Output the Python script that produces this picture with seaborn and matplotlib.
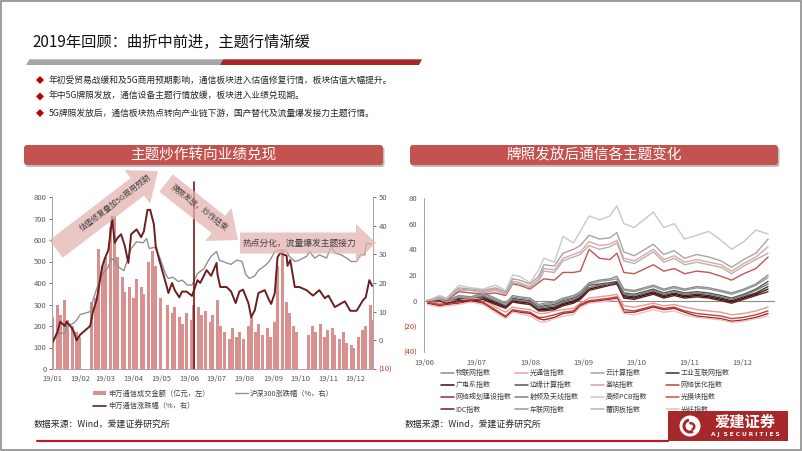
import matplotlib
matplotlib.use('Agg')
import numpy as np
import pandas as pd
import matplotlib.pyplot as plt
import matplotlib.dates as mdates
from matplotlib.patches import Polygon, FancyBboxPatch, Rectangle, Circle, Wedge
from matplotlib.lines import Line2D
import seaborn as sns

sns.set_theme(style='white')
plt.rcParams['font.family'] = ['Noto Sans CJK SC', 'DejaVu Sans']
plt.rcParams['axes.unicode_minus'] = False

# ---------------- left chart data ----------------
# 申万通信成交金额 (亿元), one value every 3 trading days from 2019-01-02
turnover = [240, 300, 250, 320, 230, 200, 170, 150, 0, 0,
            310, 330, 560, 480, 520, 660, 710, 520, 430, 360,
            380, 330, 420, 380, 350, 500, 550, 480, 330, 0,
            300, 260, 290, 240, 210, 260, 230, 300, 290, 250,
            270, 220, 250, 320, 200, 170, 140, 190, 150, 170,
            140, 200, 240, 170, 210, 160, 190, 150, 220, 480,
            560, 310, 260, 200, 170, 0, 0, 160, 200, 170,
            210, 150, 180, 190, 160, 140, 170, 120, 110, 100,
            150, 180, 200, 300, 230]

sw_dates = ['2019-01-02', '2019-01-07', '2019-01-10', '2019-01-15', '2019-01-17', '2019-01-22',
            '2019-01-25', '2019-01-28', '2019-02-01', '2019-02-12', '2019-02-15', '2019-02-19',
            '2019-02-21', '2019-02-25', '2019-02-28', '2019-03-04', '2019-03-07', '2019-03-08',
            '2019-03-11', '2019-03-14', '2019-03-18', '2019-03-22', '2019-03-26', '2019-03-29',
            '2019-04-04', '2019-04-09', '2019-04-12', '2019-04-16', '2019-04-19', '2019-04-23',
            '2019-04-25', '2019-04-29', '2019-05-07', '2019-05-09', '2019-05-13', '2019-05-16',
            '2019-05-21', '2019-05-24', '2019-05-29', '2019-06-04', '2019-06-10', '2019-06-13',
            '2019-06-20', '2019-06-25', '2019-07-01', '2019-07-02', '2019-07-05', '2019-07-12',
            '2019-07-17', '2019-07-22', '2019-07-26', '2019-07-30', '2019-08-05', '2019-08-08',
            '2019-08-12', '2019-08-16', '2019-08-23', '2019-08-27', '2019-08-30', '2019-09-03',
            '2019-09-06', '2019-09-09', '2019-09-16', '2019-09-17', '2019-09-20', '2019-09-25',
            '2019-09-30', '2019-10-08', '2019-10-15', '2019-10-22', '2019-10-28', '2019-11-01',
            '2019-11-08', '2019-11-13', '2019-11-19', '2019-11-25', '2019-12-02', '2019-12-09',
            '2019-12-12', '2019-12-16', '2019-12-19']
sw_change = [-0.5, 3, 6.5, 5, 6.5, 4.7, 3, 0, 2, 5, 10, 14, 17.5, 25.5, 28.5, 31.5, 39.5, 43,
             34, 35.7, 37, 33, 27, 37, 38.7, 36, 38, 45.5, 45.5, 40.5, 33, 28, 19, 16.5, 20,
             17.5, 15, 17, 17, 15.5, 21, 20, 24.5, 22.5, 27, 23, 18.6, 18.6, 17, 13, 17, 17.7,
             13, 8.1, 10.5, 16.5, 17.5, 14.5, 12.7, 16.5, 29, 30.5, 29.5, 26, 28, 18.6, 18.6,
             17.5, 15.6, 17.5, 14.7, 15.6, 11.6, 12.5, 13.6, 10.3, 10.3, 14, 15, 21, 19]

hs_dates = ['2019-01-02', '2019-01-08', '2019-01-15', '2019-01-18', '2019-01-24', '2019-01-28',
            '2019-02-01', '2019-02-12', '2019-02-15', '2019-02-21', '2019-02-26', '2019-03-04',
            '2019-03-07', '2019-03-11', '2019-03-15', '2019-03-21', '2019-03-25', '2019-03-29',
            '2019-04-04', '2019-04-11', '2019-04-15', '2019-04-18', '2019-04-24', '2019-04-29',
            '2019-05-06', '2019-05-09', '2019-05-14', '2019-05-20', '2019-05-24', '2019-05-30',
            '2019-06-04', '2019-06-10', '2019-06-17', '2019-06-21', '2019-06-25', '2019-07-01',
            '2019-07-04', '2019-07-12', '2019-07-17', '2019-07-23', '2019-07-29', '2019-08-02',
            '2019-08-06', '2019-08-12', '2019-08-16', '2019-08-23', '2019-08-28', '2019-09-03',
            '2019-09-09', '2019-09-16', '2019-09-19', '2019-09-25', '2019-09-30', '2019-10-08',
            '2019-10-11', '2019-10-17', '2019-10-22', '2019-10-30', '2019-11-04', '2019-11-08',
            '2019-11-15', '2019-11-21', '2019-11-26', '2019-12-02', '2019-12-06', '2019-12-11',
            '2019-12-13', '2019-12-18']
hs_change = [-0.5, 2.5, 2.5, 5.4, 5.8, 7, 9, 10, 14, 19.8, 23.3, 25.6, 28.5, 28, 25.6, 24.3,
             28, 32, 34.4, 34, 35.5, 32, 32.5, 29.3, 23, 21.6, 22, 20.5, 21, 19.3, 19.3, 23.3,
             25, 27.3, 29.3, 31, 28, 27, 26.5, 28, 27.5, 23, 21.6, 22.5, 24.4, 26, 27.5, 31,
             31.6, 31, 29.3, 27.5, 28, 29.3, 31, 28.7, 29.8, 28.7, 32.7, 30.5, 29.8, 28.7,
             27.5, 27.5, 29.8, 29.8, 34, 33.5]

# ---------------- right chart data (涨跌幅 %, since June) ----------------
theme_dates = ['2019-06-03', '2019-06-10', '2019-06-14', '2019-06-21', '2019-06-28',
               '2019-07-05', '2019-07-12', '2019-07-18', '2019-07-22', '2019-07-26',
               '2019-08-01', '2019-08-06', '2019-08-09', '2019-08-15', '2019-08-20',
               '2019-08-26', '2019-08-30', '2019-09-04', '2019-09-10', '2019-09-16',
               '2019-09-20', '2019-09-24', '2019-09-30', '2019-10-11', '2019-10-17',
               '2019-10-23', '2019-10-29', '2019-11-05', '2019-11-12', '2019-11-19',
               '2019-11-25', '2019-12-02', '2019-12-09', '2019-12-16']
iot = [0, 2, 0, 4, 3, 6, 2, -2, 4, 3, 2, -3, -2, -1, 2, 4, 7, 14, 16, 17, 19, 9, 8, 12, 9, 11, 9, 11, 10, 8, 6, 9, 13, 20]
optical = [0, 2, 1, 8, 8, 7, 9, 6, 15, 14, 11, 17, 25, 24, 33, 36, 38, 46, 43, 44, 47, 33, 31, 40, 32, 35, 30, 32, 30, 28, 23, 29, 34, 42]
cloud = [0, 3, 2, 10, 9, 8, 10, 7, 17, 16, 13, 19, 28, 27, 37, 40, 43, 51, 48, 49, 53, 38, 35, 44, 36, 39, 33, 36, 34, 31, 26, 32, 37, 48]
industrial = [0, 1, -1, 2, 1, 3, -1, -4, 1, 0, -1, -6, -6, -5, -2, 0, 3, 10, 12, 13, 14, 4, 3, 7, 4, 6, 4, 5, 4, 2, 0, 3, 6, 11]
broadcast = [0, 0, -2, 1, 0, 2, -2, -5, 0, -1, -2, -7, -7, -6, -3, -1, 2, 9, 11, 13, 14, 3, 2, 6, 3, 5, 3, 4, 3, 1, -1, 2, 5, 9]
edge = [0, 1, -1, 2, 1, 3, 0, -4, 2, 1, 0, -5, -4, -3, 0, 2, 5, 12, 13, 14, 15, 6, 5, 9, 6, 8, 6, 7, 6, 4, 2, 5, 9, 15]
base_station = [0, -2, -1, 0, 2, 1, -5, -9, -5, -6, -7, -10, -10, -8, -7, -6, -2, 2, 3, 4, 5, -4, -5, -2, -4, -3, -5, -7, -8, -9, -11, -10, -8, -5]
net_optimize = [-1, -3, -2, -1, 1, -1, -7, -12, -7, -8, -9, -13, -13, -11, -9, -8, -3, 0, 1, 2, 3, -7, -8, -4, -6, -5, -8, -10, -11, -12, -14, -13, -11, -8]
net_planning = [-2, -4, -3, -2, 0, -2, -8, -13, -8, -9, -10, -14, -15, -13, -10, -9, -4, -1, 0, 1, 2, -9, -9, -5, -7, -6, -9, -12, -13, -14, -16, -15, -13, -10]
rf_antenna = [0, 2, 0, 3, 2, 4, 0, -3, 1, 0, -1, -6, -5, -4, -1, 1, 4, 10, 12, 13, 13, 5, 4, 8, 5, 7, 5, 6, 5, 3, 1, 4, 8, 13]
hf_pcb = [0, 4, 2, 12, 10, 9, 12, 8, 20, 19, 14, 24, 33, 30, 50, 45, 54, 66, 63, 66, 74, 60, 57, 69, 57, 60, 48, 51, 54, 47, 40, 46, 55, 52]
opt_module = [0, 1, 0, 7, 6, 5, 6, 4, 13, 12, 9, 14, 17, 16, 22, 22, 23, 40, 33, 32, 37, 22, 21, 28, 23, 25, 21, 23, 22, 19, 16, 21, 25, 34]
idc = [0, 0, -2, 0, -1, 1, -3, -6, -1, -2, -3, -8, -8, -7, -4, -2, 1, 8, 10, 12, 13, 2, 1, 5, 2, 4, 2, 3, 2, 0, -2, 1, 4, 7]
vehicle_net = [0, 1, -1, 3, 2, 5, 1, -3, 3, 2, 1, -4, -3, -2, 1, 3, 6, 13, 15, 16, 17, 8, 7, 11, 8, 10, 8, 10, 9, 7, 5, 8, 12, 18]
ccl = [0, 2, 1, 9, 8, 6, 8, 5, 14, 13, 10, 15, 23, 22, 31, 34, 36, 43, 40, 42, 45, 31, 29, 38, 30, 33, 28, 30, 28, 26, 21, 27, 32, 37]
fiber = [-3, -5, -4, -3, -1, -3, -9, -14, -9, -10, -12, -16, -17, -14, -12, -11, -5, -2, -1, 0, 1, -10, -11, -7, -9, -8, -11, -13, -14, -15, -17, -16, -14, -12]

theme_names = ['物联网指数', '光通信指数', '云计算指数', '工业互联网指数',
               '广电系指数', '边缘计算指数', '基站指数', '网络优化指数',
               '网络规划建设指数', '射频及天线指数', '高频PCB指数', '光模块指数',
               'IDC指数', '车联网指数', '覆铜板指数', '光纤指数']
theme_series = [iot, optical, cloud, industrial, broadcast, edge, base_station, net_optimize,
                net_planning, rf_antenna, hf_pcb, opt_module, idc, vehicle_net, ccl, fiber]
theme_colors = ['#8c8c8c', '#e6a3a2', '#a6a6a6', '#333333',
                '#3b0e0e', '#555555', '#e39a99', '#c8413b',
                '#982b2b', '#7f7f7f', '#c8c8c8', '#c65552',
                '#6e1c1c', '#999999', '#b3b3b3', '#f1bcbb']

bar_color = '#d9908e'
sw_color = '#6b1f1f'
hs_color = '#8c9491'
red_dark = '#a8282a'
header_red = '#c4524e'
tick_color = '#595959'

# ---------------- figure ----------------
W, H = 802, 451
fig = plt.figure(figsize=(W / 100, H / 100), dpi=100)
fig.patch.set_facecolor('white')
tr = fig.dpi_scale_trans


def P(x, y):
    # slide pixel -> inches from bottom-left
    return (x / 100, (H - y) / 100)


def frect(x0, y0, x1, y1):
    return [x0 / W, 1 - y1 / H, (x1 - x0) / W, (y1 - y0) / H]


# slide frame
fig.add_artist(Rectangle((0.006, 0.006), W / 100 - 0.012, H / 100 - 0.012, transform=tr,
                         fill=False, ec='#8c8c8c', lw=1.2))

# title + underline bars
fig.text(*P(32, 42), '2019年回顾：曲折中前进，主题行情渐缓', transform=tr,
         fontsize=11, va='center', ha='left', color='#111111')
fig.add_artist(Polygon([P(26, 65), P(29.5, 59.3), P(223, 59.3), P(220, 65)], closed=True,
                       transform=tr, fc='#a6a6a6', ec='none'))
fig.add_artist(Polygon([P(220, 65), P(223, 59.3), P(422, 59.3), P(419, 65)], closed=True,
                       transform=tr, fc=red_dark, ec='none'))

bullets = ['年初受贸易战缓和及5G商用预期影响，通信板块进入估值修复行情，板块估值大幅提升。',
           '年中5G牌照发放，通信设备主题行情放缓，板块进入业绩兑现期。',
           '5G牌照发放后，通信板块热点转向产业链下游，国产替代及流量爆发接力主题行情。']
for i, s in enumerate(bullets):
    yy = 80 + i * 16.5
    fig.add_artist(Polygon([P(40, yy - 4), P(44, yy), P(40, yy + 4), P(36, yy)], closed=True,
                           transform=tr, fc='#c00000', ec='none'))
    fig.text(*P(49, yy), s, transform=tr, fontsize=6.3, va='center', ha='left', color='#262626')

# panel headers
for x0, x1, label in [(24, 383, '主题炒作转向业绩兑现'), (410, 778, '牌照发放后通信各主题变化')]:
    sx, sy = P(x0 + 1.5, 167)
    fig.add_artist(FancyBboxPatch((sx, sy), (x1 - x0) / 100, 0.20, transform=tr,
                                  boxstyle='round,pad=0,rounding_size=0.03', fc='#bdbdbd', ec='none'))
    bx, by = P(x0, 165)
    fig.add_artist(FancyBboxPatch((bx, by), (x1 - x0) / 100, 0.20, transform=tr,
                                  boxstyle='round,pad=0,rounding_size=0.03', fc=header_red, ec='none'))
    fig.text(*P((x0 + x1) / 2, 155), label, transform=tr, fontsize=10.5, color='white',
             ha='center', va='center')

# ---------------- left chart ----------------
ax1 = fig.add_axes(frect(52, 197, 373, 369))
bar_dates = pd.bdate_range('2019-01-02', periods=len(turnover), freq='3B')
ax1.bar(bar_dates, turnover, width=3.3, color=bar_color, linewidth=0)
ax1.set_ylim(0, 800)
ax1.set_yticks(range(0, 801, 100))
ax1.set_xlim(pd.Timestamp('2019-01-01'), pd.Timestamp('2019-12-20'))

ax2 = ax1.twinx()
sns.lineplot(x=pd.to_datetime(hs_dates), y=hs_change, ax=ax2, color=hs_color, linewidth=1.0)
sns.lineplot(x=pd.to_datetime(sw_dates), y=sw_change, ax=ax2, color=sw_color, linewidth=1.4)
ax2.axvline(pd.Timestamp('2019-06-06'), ymin=0, ymax=1.087, color='#7b1818', lw=1.2, clip_on=False)
ax2.set_ylim(-10, 50)
ax2.set_yticks(range(-10, 51, 10))
ax2.set_yticklabels(['(10)', '0', '10', '20', '30', '40', '50'])

for a in (ax1, ax2):
    a.set_xlabel('')
    a.set_ylabel('')
    for sp in a.spines.values():
        sp.set_color('#a6a6a6')
        sp.set_linewidth(0.7)
    a.spines['top'].set_visible(False)
    a.tick_params(labelsize=5.5, colors=tick_color, length=2, width=0.6, pad=2)
ax2.get_yticklabels()[0].set_color('#c0392b')
ax1.xaxis.set_major_locator(mdates.MonthLocator())
ax1.xaxis.set_major_formatter(mdates.DateFormatter('%y/%m'))

# trend arrows (slide pixel coordinates)
def arrow_poly(x0, y0, x1, y1, w, hw, hl):
    dx, dy = x1 - x0, y1 - y0
    L = np.hypot(dx, dy)
    ux, uy = dx / L, dy / L
    nx, ny = -uy, ux
    bx, by = x1 - ux * hl, y1 - uy * hl
    pts = [(x0 + nx * w / 2, y0 + ny * w / 2), (bx + nx * w / 2, by + ny * w / 2),
           (bx + nx * hw / 2, by + ny * hw / 2), (x1, y1),
           (bx - nx * hw / 2, by - ny * hw / 2), (bx - nx * w / 2, by - ny * w / 2),
           (x0 - nx * w / 2, y0 - ny * w / 2)]
    return [P(px, py) for px, py in pts]


arrow_fc = '#e3b3b2'
for geo in [(56, 249, 158, 171, 22, 42, 26), (166, 183, 238, 240, 22, 42, 25),
            (240, 243, 376, 243, 21, 38, 20)]:
    fig.add_artist(Polygon(arrow_poly(*geo), closed=True, transform=tr, fc=arrow_fc,
                           ec='none', alpha=0.75))
fig.text(*P(116, 203), '估值修复叠加5G商用预期', transform=tr, fontsize=5.6, color='#404040',
         rotation=37.5, rotation_mode='anchor', ha='center', va='center')
fig.text(*P(199, 208), '牌照发放，炒作结束', transform=tr, fontsize=5.6, color='#404040',
         rotation=-38, rotation_mode='anchor', ha='center', va='center')
fig.text(*P(300, 243), '热点分化，流量爆发主题接力', transform=tr, fontsize=6.3, color='#404040',
         ha='center', va='center')

# left legend
leg_kw = dict(loc='upper left', bbox_transform=tr, frameon=False, fontsize=5.2,
              handlelength=1.8, handletextpad=0.3, labelspacing=0.55, borderpad=0,
              borderaxespad=0, labelcolor='#404040')
fig.legend([Rectangle((0, 0), 1, 1, fc=bar_color, ec='none'), Line2D([], [], color=sw_color, lw=1.2)],
           ['申万通信成交金额（亿元，左）', '申万通信涨跌幅（%，右）'],
           bbox_to_anchor=P(93, 390), handleheight=0.5, **leg_kw)
fig.legend([Line2D([], [], color=hs_color, lw=1.0)], ['沪深300涨跌幅（%，右）'],
           bbox_to_anchor=P(235, 390), **leg_kw)

# ---------------- right chart ----------------
ax3 = fig.add_axes(frect(424, 198, 775, 352))
theme_df = pd.DataFrame({'date': pd.to_datetime(theme_dates)})
for name, vals in zip(theme_names, theme_series):
    theme_df[name] = vals
theme_long = theme_df.melt(id_vars='date', var_name='主题', value_name='涨跌幅')
palette = dict(zip(theme_names, theme_colors))
ax3.axhline(0, color='#8c8c8c', lw=0.8, zorder=1)
sns.lineplot(data=theme_long, x='date', y='涨跌幅', hue='主题', palette=palette,
             linewidth=1.0, legend=False, ax=ax3)
ax3.set_xlim(pd.Timestamp('2019-06-01'), pd.Timestamp('2019-12-20'))
ax3.set_ylim(-40, 80)
ax3.set_yticks(range(-40, 81, 20))
ax3.set_yticklabels(['(40)', '(20)', '0', '20', '40', '60', '80'])
ax3.set_xlabel('')
ax3.set_ylabel('')
ax3.xaxis.set_major_locator(mdates.MonthLocator())
ax3.xaxis.set_major_formatter(mdates.DateFormatter('%y/%m'))
for sp in ['top', 'right', 'bottom']:
    ax3.spines[sp].set_visible(False)
ax3.spines['left'].set_color('#a6a6a6')
ax3.spines['left'].set_linewidth(0.7)
ax3.tick_params(labelsize=5.5, colors=tick_color, length=0, pad=5)
ax3.tick_params(axis='y', length=2, width=0.6, pad=3)
for lab in ax3.get_yticklabels()[:2]:
    lab.set_color('#c0392b')

# right legend: 4 fixed columns, rows filled left to right
col_x = [441, 515, 591, 666]
for c in range(4):
    idx = [r * 4 + c for r in range(4)]
    fig.legend([Line2D([], [], color=theme_colors[i], lw=1.1) for i in idx],
               [theme_names[i] for i in idx],
               bbox_to_anchor=P(col_x[c], 369), handleheight=0.5,
               **dict(leg_kw, fontsize=5.0, labelspacing=0.6))

# sources
fig.text(*P(34, 425), '数据来源：Wind，爱建证券研究所', transform=tr, fontsize=6.4,
         va='center', color='#262626')
fig.text(*P(405, 425), '数据来源：Wind，爱建证券研究所', transform=tr, fontsize=6.4,
         va='center', color='#262626')
fig.add_artist(Line2D([37 / 100, 668 / 100], [(H - 440.5) / 100] * 2, transform=tr,
                      color='#c0171f', lw=1.5))

# logo
fig.add_artist(Rectangle(P(668, 441), 1.20, 0.30, transform=tr, fc=red_dark, ec='none'))
cx, cy = P(690, 426)
fig.add_artist(Circle((cx, cy), 0.105, transform=tr, fc='white', ec='none'))
fig.add_artist(Wedge((cx, cy), 0.075, 100, 300, width=0.03, transform=tr, fc=red_dark, ec='none'))
fig.add_artist(Wedge((cx + 0.01, cy - 0.005), 0.045, 280, 120, width=0.025, transform=tr,
                     fc=red_dark, ec='none'))
fig.text(*P(745, 422), '爱建证券', transform=tr, fontsize=11, fontweight='bold', color='white',
         ha='center', va='center')
fig.text(*P(745, 434.5), 'A J  S E C U R I T I E S', transform=tr, fontsize=4.2,
         fontweight='bold', color='white', ha='center', va='center', family='DejaVu Sans')

fig.savefig('out.png', dpi=100)
